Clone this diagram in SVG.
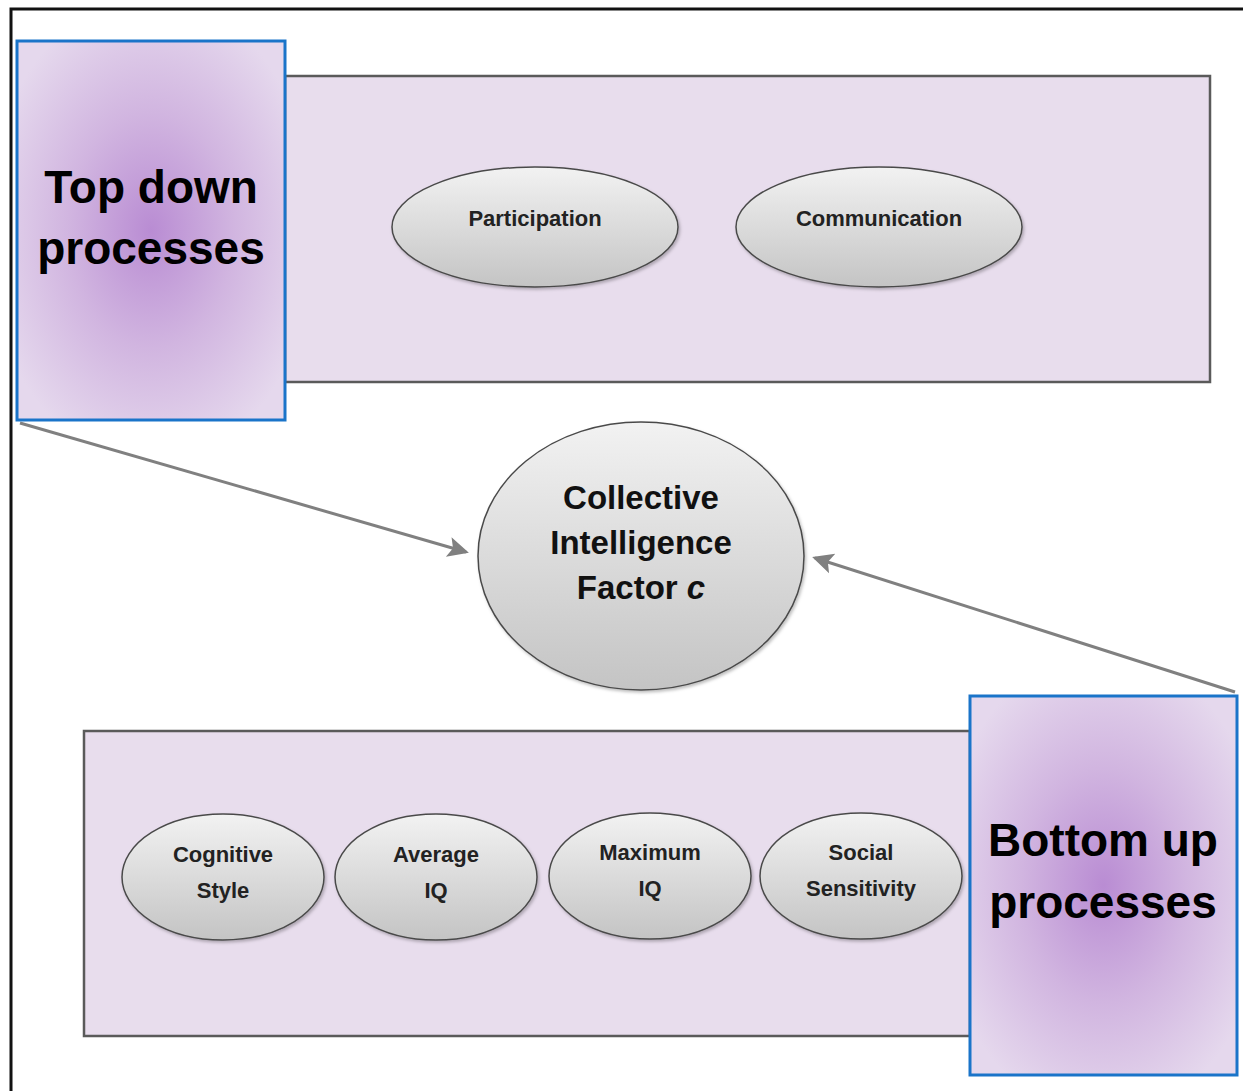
<svg xmlns="http://www.w3.org/2000/svg" width="1243" height="1091" viewBox="0 0 1243 1091">
<defs>
<radialGradient id="purple" cx="0.5" cy="0.5" r="0.62">
<stop offset="0" stop-color="#b98cd3"/>
<stop offset="0.5" stop-color="#d1b5e0"/>
<stop offset="1" stop-color="#e5d8ed"/>
</radialGradient>
<linearGradient id="gray" x1="0" y1="0" x2="0" y2="1">
<stop offset="0" stop-color="#f2f2f2"/>
<stop offset="1" stop-color="#c4c4c4"/>
</linearGradient>
<filter id="sh" x="-10%" y="-10%" width="130%" height="130%">
<feDropShadow dx="1.5" dy="2" stdDeviation="1.5" flood-color="#000" flood-opacity="0.25"/>
</filter>
<marker id="arr" markerWidth="8" markerHeight="8" refX="6" refY="4" orient="auto" markerUnits="strokeWidth">
<path d="M0,0.6 L7,4 L0,7.4 L1.5,4 Z" fill="#808080"/>
</marker>
<style>
.panel{fill:#e8dded;stroke:#5a5a5a;stroke-width:2.5}
.side{fill:url(#purple);stroke:#1a74c9;stroke-width:3}
.ell{fill:url(#gray);stroke:#4a4a4a;stroke-width:1.5;filter:url(#sh)}
.big{font-family:"Liberation Sans",Arial,sans-serif;font-weight:bold;font-size:46px;fill:#000;text-anchor:middle}
.mid{font-family:"Liberation Sans",Arial,sans-serif;font-weight:bold;font-size:33px;fill:#111;text-anchor:middle}
.small{font-family:"Liberation Sans",Arial,sans-serif;font-weight:bold;font-size:22px;fill:#222;text-anchor:middle}
.conn{stroke:#808080;stroke-width:3;fill:none}
</style>
</defs>
<rect width="1243" height="1091" fill="#fff"/>
<path d="M11,1091 V9 H1243" fill="none" stroke="#111" stroke-width="3"/>

<g id="top-panel">
<rect class="panel" x="285" y="76" width="925" height="306"/>
</g>
<g id="bottom-panel">
<rect class="panel" x="84" y="731" width="886" height="305"/>
</g>

<g id="connectors">
<line class="conn" x1="20" y1="423" x2="466" y2="552" marker-end="url(#arr)"/>
<line class="conn" x1="1235" y1="692" x2="815" y2="558" marker-end="url(#arr)"/>
</g>

<g id="top-down">
<rect class="side" x="17" y="41" width="268" height="379"/>
<text class="big" x="151" y="203">Top down</text>
<text class="big" x="151" y="264">processes</text>
</g>

<g id="bottom-up">
<rect class="side" x="970" y="696" width="267" height="379"/>
<text class="big" x="1103" y="856">Bottom up</text>
<text class="big" x="1103" y="918">processes</text>
</g>

<g id="participation">
<ellipse class="ell" cx="535" cy="227" rx="143" ry="60"/>
<text class="small" x="535" y="226">Participation</text>
</g>
<g id="communication">
<ellipse class="ell" cx="879" cy="227" rx="143" ry="60"/>
<text class="small" x="879" y="226">Communication</text>
</g>

<g id="collective-intelligence">
<ellipse class="ell" cx="641" cy="556" rx="163" ry="134"/>
<text class="mid" x="641" y="509">Collective</text>
<text class="mid" x="641" y="554">Intelligence</text>
<text class="mid" x="641" y="599">Factor <tspan font-style="italic">c</tspan></text>
</g>

<g id="cognitive-style">
<ellipse class="ell" cx="223" cy="877" rx="101" ry="63"/>
<text class="small" x="223" y="862">Cognitive</text>
<text class="small" x="223" y="898">Style</text>
</g>
<g id="average-iq">
<ellipse class="ell" cx="436" cy="877" rx="101" ry="63"/>
<text class="small" x="436" y="862">Average</text>
<text class="small" x="436" y="898">IQ</text>
</g>
<g id="maximum-iq">
<ellipse class="ell" cx="650" cy="876" rx="101" ry="63"/>
<text class="small" x="650" y="860">Maximum</text>
<text class="small" x="650" y="896">IQ</text>
</g>
<g id="social-sensitivity">
<ellipse class="ell" cx="861" cy="876" rx="101" ry="63"/>
<text class="small" x="861" y="860">Social</text>
<text class="small" x="861" y="896">Sensitivity</text>
</g>
</svg>
